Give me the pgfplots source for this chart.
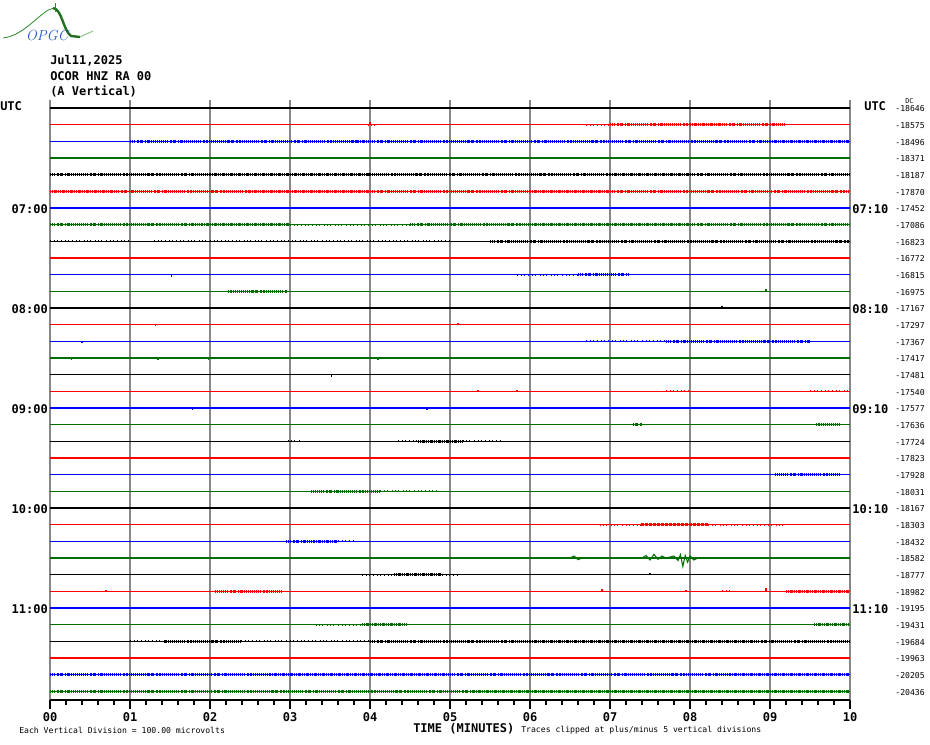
\documentclass[border=0pt]{standalone}
\usepackage{fontspec}
\setmonofont{DejaVu Sans Mono}
\usepackage{pgfplots}
\pgfplotsset{compat=1.18}

\definecolor{trk}{RGB}{0,0,0}
\definecolor{trr}{RGB}{255,0,0}
\definecolor{trb}{RGB}{0,0,255}
\definecolor{trg}{RGB}{0,110,0}
\definecolor{gridgray}{RGB}{135,135,135}
\definecolor{logogreen}{RGB}{40,140,40}
\definecolor{logoblue}{RGB}{40,90,200}

% noise band styles laid over the flat traces
\pgfplotsset{
  base/.style={line width=1.1pt},
  sp/.style={line width=1.7pt, line cap=butt, dash pattern=on 0.4pt off 2.3pt on 0.7pt off 1.5pt on 0.4pt off 3.1pt},
  md/.style={line width=1.8pt, line cap=butt, dash pattern=on 0.5pt off 0.9pt on 1.1pt off 0.6pt on 0.4pt off 1.4pt on 0.8pt off 0.5pt},
  dn/.style={line width=1.9pt, line cap=butt, dash pattern=on 1.1pt off 0.5pt on 0.5pt off 0.7pt on 1.5pt off 0.4pt on 0.7pt off 0.6pt},
  blip/.style={line width=1.1pt},
}

\begin{document}
\begin{tikzpicture}
\path[use as bounding box] (-37.5pt,-33pt) rectangle (660pt,525pt);

\begin{axis}[
    scale only axis,
    width=600pt, height=450pt,
    xmin=0, xmax=10,
    ymin=-35.52, ymax=0.48,
    axis x line*=bottom,
    axis y line=none,
    xtick={0,1,2,3,4,5,6,7,8,9,10},
    xticklabels={00,01,02,03,04,05,06,07,08,09,10},
    minor x tick num=4,
    tick align=outside,
    major tick length=7pt,
    minor tick length=4pt,
    xmajorgrids,
    grid style={gridgray, line width=0.9pt},
    x axis line style={black, line width=0.9pt},
    tick style={black, line width=0.8pt},
    xticklabel style={font=\ttfamily\bfseries\fontsize{9}{9}\selectfont, yshift=1pt},
    unbounded coords=jump,
]

% ---- black traces (rows 0,4,...,32)
\addplot[trk, base] coordinates {
 (0,0) (10,0) (0,nan) (0,-4) (10,-4) (0,nan) (0,-8) (10,-8) (0,nan)
 (0,-12) (10,-12) (0,nan) (0,-16) (10,-16) (0,nan) (0,-20) (10,-20) (0,nan)
 (0,-24) (10,-24) (0,nan) (0,-28) (10,-28) (0,nan) (0,-32) (10,-32)
};
\addplot[trk, sp] coordinates {
 (0.65,0) (0.97,0) (0,nan) (3.8,0) (3.9,0) (0,nan)
 (0,-8) (1,-8) (0,nan) (1.3,-8) (5,-8) (0,nan)
 (0,-12) (0.4,-12) (0,nan)
 (2.97,-20) (3.14,-20) (0,nan) (4.35,-20) (4.6,-20) (0,nan) (5.16,-20) (5.65,-20) (0,nan)
 (0,-24) (0.12,-24) (0,nan)
 (3.9,-28) (4.3,-28) (0,nan) (4.9,-28) (5.1,-28) (0,nan)
 (1,-32) (1.42,-32) (0,nan) (2.39,-32) (4,-32)
};
\addplot[trk, md] coordinates {
 (1,0) (2,0) (0,nan)
 (0,-4) (2,-4) (0,nan) (3.97,-4) (7,-4) (0,nan) (8,-4) (10,-4) (0,nan)
 (5.5,-8) (10,-8) (0,nan)
 (1.42,-32) (2.39,-32) (0,nan) (4,-32) (6,-32) (0,nan) (8.8,-32) (10,-32)
};
\addplot[trk, dn] coordinates {
 (2,0) (2.97,0) (0,nan)
 (2,-4) (3.97,-4) (0,nan) (7,-4) (8,-4) (0,nan)
 (4.6,-20) (5.16,-20) (0,nan)
 (4.3,-28) (4.9,-28) (0,nan)
 (6,-32) (8.8,-32)
};
\addplot[trk, blip] coordinates {
 (3.52,-16.15) (3.52,-16) (0,nan) (7.5,-28) (7.5,-27.88) (0,nan) (8.4,-12) (8.4,-11.9)
};

% ---- red traces (rows 1,5,...,33)
\addplot[trr, base] coordinates {
 (0,-1) (10,-1) (0,nan) (0,-5) (10,-5) (0,nan) (0,-9) (10,-9) (0,nan)
 (0,-13) (10,-13) (0,nan) (0,-17) (10,-17) (0,nan) (0,-21) (10,-21) (0,nan)
 (0,-25) (10,-25) (0,nan) (0,-29) (10,-29) (0,nan) (0,-33) (10,-33)
};
\addplot[trr, sp] coordinates {
 (6.7,-1) (7,-1) (0,nan) (3.97,-1) (4.06,-1) (0,nan)
 (7.7,-17) (8,-17) (0,nan) (9.5,-17) (10,-17) (0,nan)
 (6.87,-25) (7.39,-25) (0,nan) (8.23,-25) (9.16,-25) (0,nan)
 (8.4,-29) (8.5,-29)
};
\addplot[trr, md] coordinates {
 (7,-1) (8,-1) (0,nan) (8.4,-1) (9.2,-1) (0,nan)
 (0.8,-5) (2.5,-5) (0,nan) (4,-5) (6,-5) (0,nan) (7,-5) (10,-5) (0,nan)
 (0,-21) (0.94,-21) (0,nan)
 (2.06,-29) (2.9,-29) (0,nan)
 (2,-33) (5,-33) (0,nan) (7.5,-33) (10,-33)
};
\addplot[trr, dn] coordinates {
 (8,-1) (8.4,-1) (0,nan)
 (0,-5) (0.8,-5) (0,nan) (2.5,-5) (4,-5) (0,nan) (6,-5) (7,-5) (0,nan)
 (0,-9) (6.45,-9) (0,nan)
 (7.39,-25) (8.23,-25) (0,nan)
 (9.2,-29) (10,-29) (0,nan)
 (0,-33) (2,-33) (0,nan) (5,-33) (7.5,-33)
};
\addplot[trr, blip] coordinates {
 (4.0,-1) (4.0,-0.85) (0,nan)
 (1.32,-13) (1.32,-13.1) (0,nan) (5.1,-13) (5.1,-12.88) (0,nan)
 (5.35,-17) (5.35,-16.9) (0,nan) (5.84,-17) (5.84,-16.9) (0,nan)
 (0.7,-29) (0.7,-28.9) (0,nan) (6.9,-29) (6.9,-28.88) (0,nan)
 (7.95,-29) (7.95,-28.9) (0,nan) (8.95,-29.05) (8.95,-28.82)
};

% ---- blue traces (rows 2,6,...,34)
\addplot[trb, base] coordinates {
 (0,-2) (10,-2) (0,nan) (0,-6) (10,-6) (0,nan) (0,-10) (10,-10) (0,nan)
 (0,-14) (10,-14) (0,nan) (0,-18) (10,-18) (0,nan) (0,-22) (10,-22) (0,nan)
 (0,-26) (10,-26) (0,nan) (0,-30) (10,-30) (0,nan) (0,-34) (10,-34)
};
\addplot[trb, sp] coordinates {
 (5.84,-10) (6.6,-10) (0,nan)
 (6.7,-14) (7.7,-14) (0,nan)
 (3.6,-26) (3.8,-26) (0,nan)
 (5.42,-30) (5.77,-30) (0,nan) (7,-30) (7.7,-30)
};
\addplot[trb, md] coordinates {
 (1,-2) (3.85,-2) (0,nan) (4,-2) (9,-2) (0,nan)
 (2,-6) (4,-6) (0,nan) (6,-6) (8,-6) (0,nan)
 (6.6,-10) (7.23,-10) (0,nan)
 (7.7,-14) (9.5,-14) (0,nan)
 (9.06,-22) (9.87,-22) (0,nan)
 (2.95,-26) (3.3,-26) (0,nan)
 (0,-30) (0.85,-30) (0,nan)
 (0,-34) (2.75,-34) (0,nan) (5,-34) (8.5,-34)
};
\addplot[trb, dn] coordinates {
 (3.85,-2) (4,-2) (0,nan) (9,-2) (10,-2) (0,nan)
 (0,-6) (2,-6) (0,nan) (4,-6) (6,-6) (0,nan) (8,-6) (10,-6) (0,nan)
 (3.3,-26) (3.6,-26) (0,nan)
 (6.32,-30) (7,-30) (0,nan)
 (2.75,-34) (5,-34) (0,nan) (8.5,-34) (10,-34)
};
\addplot[trb, blip] coordinates {
 (1.52,-10) (1.52,-10.12) (0,nan) (0.4,-14) (0.4,-14.12) (0,nan)
 (1.78,-18) (1.78,-18.1) (0,nan) (4.71,-18) (4.71,-18.12)
};

% ---- green traces (rows 3,7,...,35)
\addplot[trg, base] coordinates {
 (0,-3) (10,-3) (0,nan) (0,-7) (10,-7) (0,nan) (0,-11) (10,-11) (0,nan)
 (0,-15) (10,-15) (0,nan) (0,-19) (10,-19) (0,nan) (0,-23) (10,-23) (0,nan)
 (0,-27) (10,-27) (0,nan) (0,-31) (10,-31) (0,nan) (0,-35) (10,-35)
};
\addplot[trg, sp] coordinates {
 (3,-3) (6.4,-3) (0,nan)
 (3,-7) (4.5,-7) (0,nan)
 (4.13,-23) (4.85,-23) (0,nan)
 (0,-27) (0.2,-27) (0,nan) (8.3,-27) (9.26,-27) (0,nan)
 (3.32,-31) (3.9,-31)
};
\addplot[trg, md] coordinates {
 (6.4,-3) (9,-3) (0,nan)
 (0,-7) (1.9,-7) (0,nan) (4.5,-7) (6,-7) (0,nan) (8,-7) (10,-7) (0,nan)
 (2.23,-11) (2.97,-11) (0,nan)
 (7.29,-19) (7.4,-19) (0,nan) (9.58,-19) (9.87,-19) (0,nan)
 (3.26,-23) (4.13,-23) (0,nan)
 (5.42,-27) (6.4,-27) (0,nan)
 (0,-35) (5.3,-35)
};
\addplot[trg, dn] coordinates {
 (0,-3) (3,-3) (0,nan) (9,-3) (10,-3) (0,nan)
 (1.9,-7) (3,-7) (0,nan) (6,-7) (8,-7) (0,nan)
 (6.4,-27) (8.3,-27) (0,nan)
 (3.9,-31) (4.45,-31) (0,nan) (9.55,-31) (10,-31) (0,nan)
 (5.3,-35) (10,-35)
};
\addplot[trg, blip] coordinates {
 (8.95,-11) (8.95,-10.88) (0,nan)
 (0.27,-15) (0.27,-15.1) (0,nan) (1.35,-15) (1.35,-15.1) (0,nan)
 (1.98,-15) (1.98,-15.1) (0,nan) (4.1,-15) (4.1,-15.12)
};
% local event on the 10:30 line
\addplot[trg, line width=0.8pt] coordinates {
 (6.5,-27) (6.55,-26.88) (6.6,-27.1) (6.65,-27) (0,nan)
 (7.4,-27) (7.45,-26.85) (7.5,-27.12) (7.55,-26.78) (7.6,-27.08) (7.65,-26.88)
 (7.7,-27) (7.8,-26.88) (7.85,-27.15) (7.88,-26.8) (7.91,-27.5) (7.94,-26.85)
 (7.97,-27.25) (8.0,-26.88) (8.05,-27.12) (8.1,-27)
};

\end{axis}

% ---- texts, in pixel units of the 930x744 picture
\begin{scope}[x=0.75pt, y=-0.75pt, shift={(-37.5pt,525pt)}]
  % logo
  \draw[logogreen, line width=0.6pt] (3,38) .. controls (20,36) and (32,22) .. (44,13) .. controls (48,10) .. (54,8);
  \draw[logogreen!80!black, line width=1.8pt] (53,8) .. controls (62,9) and (63,30) .. (71,36) -- (80,37);
  \draw[logogreen!50, line width=0.8pt] (80,37) -- (93,31);
  \draw[logogreen, line width=0.5pt] (55,3) -- (55,12);
  \node[logoblue, font=\itshape\fontsize{11}{11}\selectfont] at (47,35) {OPGC};

  \begin{scope}[every node/.style={inner sep=0pt, font=\ttfamily\bfseries\fontsize{9}{9}\selectfont}]
    \node[anchor=west] at (50,61) {Jul11,2025};
    \node[anchor=west] at (50,76) {OCOR HNZ RA 00};
    \node[anchor=west] at (50,91) {(A Vertical)};
    \node[anchor=west] at (0,106) {UTC};
    \node[anchor=west] at (864,106) {UTC};
    \foreach \t/\r in {07:00/6, 08:00/12, 09:00/18, 10:00/24, 11:00/30}
      \node[anchor=east] at (48,{109+16.667*\r}) {\t};
    \foreach \t/\r in {07:10/6, 08:10/12, 09:10/18, 10:10/24, 11:10/30}
      \node[anchor=west] at (852,{109+16.667*\r}) {\t};
    \node[anchor=west] at (413,729) {TIME (MINUTES)};
  \end{scope}

  \begin{scope}[every node/.style={inner sep=0pt, font=\ttfamily\fontsize{6.1}{6.1}\selectfont}]
    \node[anchor=west] at (905,101) {\fontsize{5}{5}\selectfont DC};
    \foreach \v [count=\i from 0] in {-18646,-18575,-18496,-18371,-18187,-17870,
        -17452,-17086,-16823,-16772,-16815,-16975,-17167,-17297,-17367,-17417,
        -17481,-17540,-17577,-17636,-17724,-17823,-17928,-18031,-18167,-18303,
        -18432,-18582,-18777,-18982,-19195,-19431,-19684,-19963,-20205,-20436}
      \node[anchor=east] at (925,{109+16.667*\i}) {\v};
    \node[anchor=west] at (19,730) {Each Vertical Division =  100.00 microvolts};
    \node[anchor=west] at (521,730) {Traces clipped at plus/minus 5 vertical divisions};
  \end{scope}
\end{scope}
\end{tikzpicture}
\end{document}
